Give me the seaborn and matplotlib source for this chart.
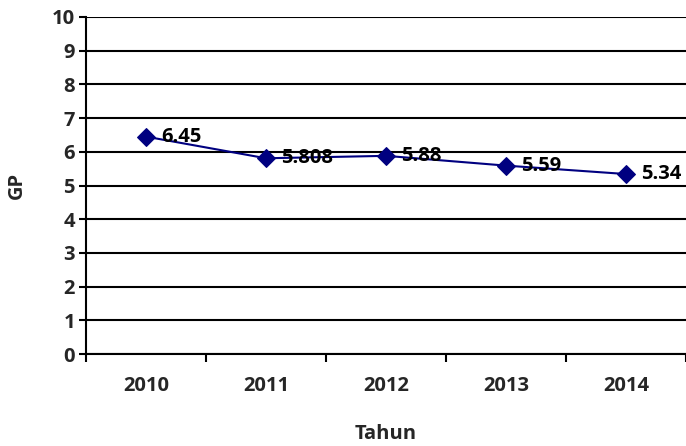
import pandas as pd
import seaborn as sns
import matplotlib.pyplot as plt
import numpy as np

years = ['2010', '2011', '2012', '2013', '2014']
gp = [6.45, 5.808, 5.88, 5.59, 5.34]
gp_labels = ['6.45', '5.808', '5.88', '5.59', '5.34']

df = pd.DataFrame({'pos': np.arange(len(years)), 'GP': gp})

sns.set_theme(style='white')
plt.rcParams['font.family'] = ['Open Sans', 'DejaVu Sans']
plt.rcParams['font.weight'] = 'bold'
fs = 14.5

fig = plt.figure(figsize=(6.86, 4.46), dpi=100)
ax = fig.add_axes([86 / 686, 92 / 446, 600 / 686, 337 / 446])

sns.lineplot(data=df, x='pos', y='GP', ax=ax, color='#000080', linewidth=1.5,
             marker='D', markersize=9, markeredgecolor='#000080', markerfacecolor='#000080')

# data labels to the right of each point
for i, (v, lab) in enumerate(zip(gp, gp_labels)):
    ax.annotate(lab, (i, v), xytext=(11, 0), textcoords='offset points',
                ha='left', va='center', fontsize=fs, fontweight='bold', color='black')

ax.set_xlim(-0.5, len(years) - 0.5)
ax.set_ylim(0, 10)
ax.set_yticks(range(0, 11))
ax.yaxis.grid(True, color='black', linewidth=1.5)
ax.set_axisbelow(True)

# ticks between categories, labels centred
ax.set_xticks(np.arange(-0.5, len(years), 1.0))
ax.set_xticklabels([])
ax.set_xticks(np.arange(len(years)), minor=True)
ax.set_xticklabels(years, minor=True)
ax.tick_params(axis='x', which='major', direction='out', length=6, width=1.5, color='black', bottom=True)
ax.tick_params(axis='x', which='minor', length=0, pad=16, labelsize=fs)
ax.tick_params(axis='y', direction='out', length=5, width=1.5, color='black', left=True, labelsize=fs, pad=3)

for side in ['top', 'right']:
    ax.spines[side].set_visible(False)
for side in ['left', 'bottom']:
    ax.spines[side].set_color('black')
    ax.spines[side].set_linewidth(1.5)

ax.set_xlabel('Tahun', fontsize=fs, fontweight='bold', labelpad=20)
ax.set_ylabel('GP', fontsize=fs, fontweight='bold', labelpad=18)

fig.savefig('out.png', dpi=100)
